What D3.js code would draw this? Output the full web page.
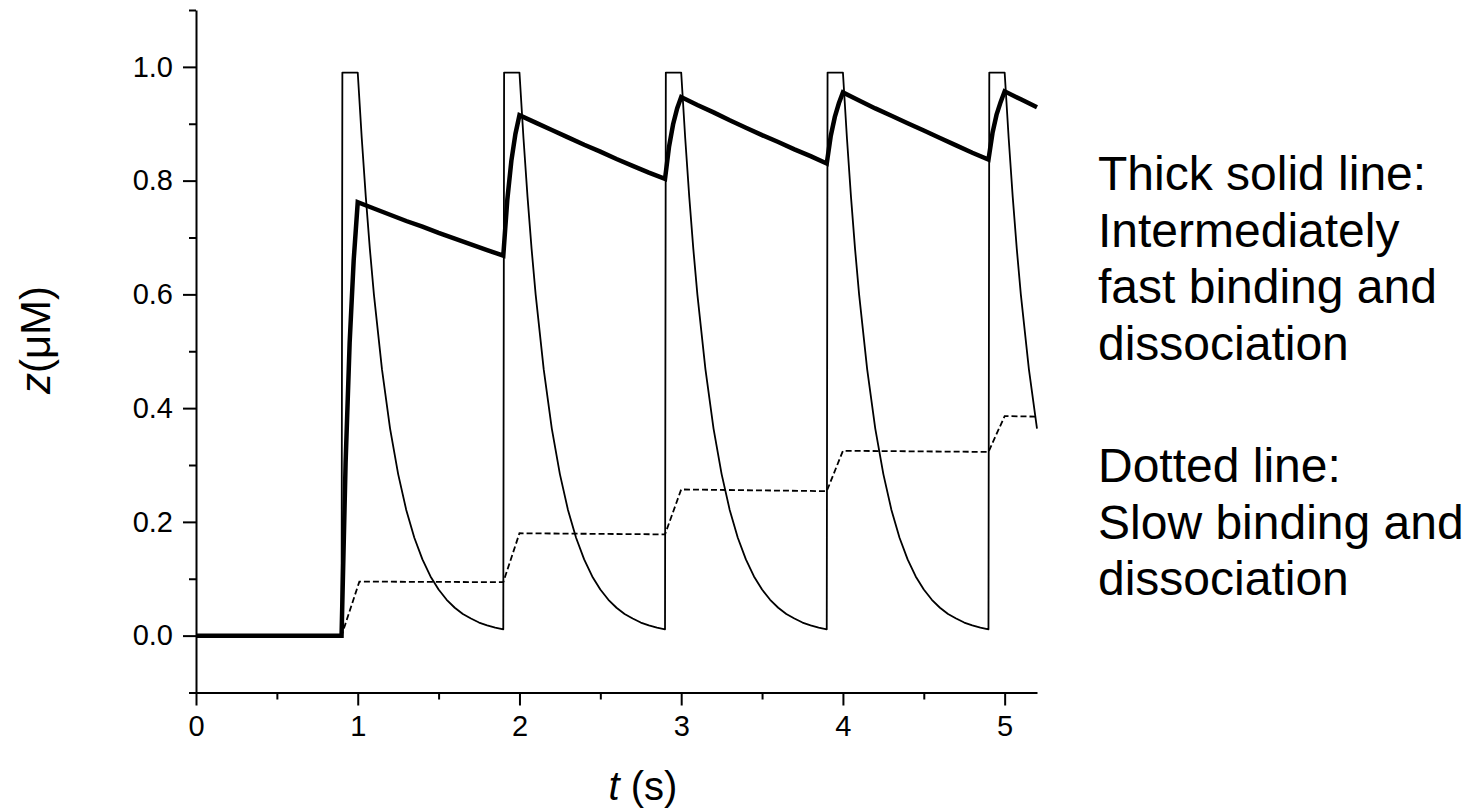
<!DOCTYPE html>
<html>
<head>
<meta charset="utf-8">
<script src="https://cdn.jsdelivr.net/npm/d3@7"></script>
<style>
  html, body { margin: 0; padding: 0; background: #fff; }
  svg { display: block; }
  text { font-family: "Liberation Sans", Arial, sans-serif; fill: #000; }
</style>
</head>
<body>
<svg id="chart" width="1475" height="812"></svg>
<script>
// ---------------- data ----------------
const xMajorTicks = [0, 1, 2, 3, 4, 5];
const xMinorTicks = [0.5, 1.5, 2.5, 3.5, 4.5];
const yMajorTicks = [0.0, 0.2, 0.4, 0.6, 0.8, 1.0];
const yMinorTicks = [-0.1, 0.1, 0.3, 0.5, 0.7, 0.9, 1.1];

// thin line: square pulse followed by exponential decay
const thinLine = [
  [0, 0], [0.9, 0], [0.905, 0.99], [1.0, 0.99],
  [1.025, 0.874], [1.05, 0.771], [1.075, 0.680], [1.1, 0.600], [1.15, 0.468], [1.2, 0.364], [1.25, 0.284], [1.3, 0.221],
  [1.35, 0.172], [1.4, 0.134], [1.45, 0.104], [1.5, 0.081], [1.55, 0.063], [1.6, 0.049],
  [1.65, 0.038], [1.7, 0.030], [1.75, 0.023], [1.8, 0.018], [1.85, 0.014], [1.9, 0.011],
  [1.905, 0.99], [2.0, 0.99],
  [2.025, 0.874], [2.05, 0.771], [2.075, 0.680], [2.1, 0.600], [2.15, 0.468], [2.2, 0.364], [2.25, 0.284], [2.3, 0.221],
  [2.35, 0.172], [2.4, 0.134], [2.45, 0.104], [2.5, 0.081], [2.55, 0.063], [2.6, 0.049],
  [2.65, 0.038], [2.7, 0.030], [2.75, 0.023], [2.8, 0.018], [2.85, 0.014], [2.9, 0.011],
  [2.905, 0.99], [3.0, 0.99],
  [3.025, 0.874], [3.05, 0.771], [3.075, 0.680], [3.1, 0.600], [3.15, 0.468], [3.2, 0.364], [3.25, 0.284], [3.3, 0.221],
  [3.35, 0.172], [3.4, 0.134], [3.45, 0.104], [3.5, 0.081], [3.55, 0.063], [3.6, 0.049],
  [3.65, 0.038], [3.7, 0.030], [3.75, 0.023], [3.8, 0.018], [3.85, 0.014], [3.9, 0.011],
  [3.905, 0.99], [4.0, 0.99],
  [4.025, 0.874], [4.05, 0.771], [4.075, 0.680], [4.1, 0.600], [4.15, 0.468], [4.2, 0.364], [4.25, 0.284], [4.3, 0.221],
  [4.35, 0.172], [4.4, 0.134], [4.45, 0.104], [4.5, 0.081], [4.55, 0.063], [4.6, 0.049],
  [4.65, 0.038], [4.7, 0.030], [4.75, 0.023], [4.8, 0.018], [4.85, 0.014], [4.9, 0.011],
  [4.905, 0.99], [5.0, 0.99],
  [5.025, 0.874], [5.05, 0.771], [5.075, 0.680], [5.1, 0.600], [5.15, 0.468], [5.2, 0.364]
];

// thick line: intermediately fast binding and dissociation
const thickLine = [
  [0, 0], [0.9, 0], [0.925, 0.304], [0.95, 0.515], [0.975, 0.660], [1.0, 0.762],
  [1.1, 0.751], [1.2, 0.740], [1.3, 0.729], [1.4, 0.719], [1.5, 0.708], [1.6, 0.698],
  [1.7, 0.688], [1.8, 0.678], [1.9, 0.668],
  [1.925, 0.767], [1.95, 0.835], [1.975, 0.882], [2.0, 0.915],
  [2.1, 0.902], [2.2, 0.889], [2.3, 0.876], [2.4, 0.863], [2.5, 0.851], [2.6, 0.838],
  [2.7, 0.826], [2.8, 0.814], [2.9, 0.803],
  [2.925, 0.860], [2.95, 0.899], [2.975, 0.927], [3.0, 0.947],
  [3.1, 0.933], [3.2, 0.920], [3.3, 0.906], [3.4, 0.893], [3.5, 0.880], [3.6, 0.868],
  [3.7, 0.855], [3.8, 0.843], [3.9, 0.830],
  [3.925, 0.879], [3.95, 0.912], [3.975, 0.936], [4.0, 0.955],
  [4.1, 0.941], [4.2, 0.927], [4.3, 0.914], [4.4, 0.901], [4.5, 0.888], [4.6, 0.875],
  [4.7, 0.862], [4.8, 0.849], [4.9, 0.837],
  [4.925, 0.884], [4.95, 0.916], [4.975, 0.938], [5.0, 0.957],
  [5.1, 0.943], [5.2, 0.929]
];

// dotted line: slow binding and dissociation
const dottedLine = [
  [0, 0], [0.9, 0], [1.01, 0.095], [1.9, 0.094], [2.0, 0.180], [2.9, 0.178],
  [3.0, 0.257], [3.9, 0.254], [4.0, 0.325], [4.9, 0.323], [5.0, 0.386], [5.2, 0.385]
];

const xTitle = "(s)";
const yTitle = "(μM)";
const noteThick = ["Thick solid line:", "Intermediately", "fast binding and", "dissociation"];
const noteDotted = ["Dotted line:", "Slow binding and", "dissociation"];

// ---------------- drawing ----------------
const svg = d3.select("#chart");
const x = d3.scaleLinear().domain([0, 5.2]).range([196, 1037]);
const y = d3.scaleLinear().domain([-0.1, 1.1]).range([692.5, 10]);

const axisFont = "29px";

// x axis minor
svg.append("g").attr("transform", `translate(0,${y(-0.1)})`)
  .call(d3.axisBottom(x).tickValues(xMinorTicks).tickSize(7).tickFormat(""))
  .call(g => g.select(".domain").remove())
  .call(g => g.selectAll("line").attr("stroke", "#000").attr("stroke-width", 2));
// x axis major
svg.append("g").attr("transform", `translate(0,${y(-0.1)})`)
  .call(d3.axisBottom(x).tickValues(xMajorTicks).tickSize(13).tickSizeOuter(0).tickPadding(10).tickFormat(d3.format("d")))
  .call(g => g.select(".domain").attr("stroke", "#000").attr("stroke-width", 2))
  .call(g => g.selectAll("line").attr("stroke", "#000").attr("stroke-width", 2))
  .call(g => g.selectAll("text").style("font-size", axisFont).attr("fill", "#000")
    .style("font-family", "'Liberation Sans', Arial, sans-serif"));

// y axis minor
svg.append("g").attr("transform", `translate(${x(0)},0)`)
  .call(d3.axisLeft(y).tickValues(yMinorTicks).tickSize(7).tickFormat(""))
  .call(g => g.select(".domain").remove())
  .call(g => g.selectAll("line").attr("stroke", "#000").attr("stroke-width", 2));
// y axis major
svg.append("g").attr("transform", `translate(${x(0)},0)`)
  .call(d3.axisLeft(y).tickValues(yMajorTicks).tickSize(13).tickSizeOuter(0).tickPadding(10).tickFormat(d3.format(".1f")))
  .call(g => g.select(".domain").attr("stroke", "#000").attr("stroke-width", 2))
  .call(g => g.selectAll("line").attr("stroke", "#000").attr("stroke-width", 2))
  .call(g => g.selectAll("text").style("font-size", axisFont).attr("fill", "#000")
    .style("font-family", "'Liberation Sans', Arial, sans-serif"));

// lines
const line = d3.line().x(d => x(d[0])).y(d => y(d[1]));

svg.append("path").datum(dottedLine)
  .attr("d", line).attr("fill", "none").attr("stroke", "#000")
  .attr("stroke-width", 1.8).attr("stroke-dasharray", "6,3");

svg.append("path").datum(thinLine)
  .attr("d", line).attr("fill", "none").attr("stroke", "#000")
  .attr("stroke-width", 1.8).attr("stroke-linejoin", "round");

svg.append("path").datum(thickLine)
  .attr("d", line).attr("fill", "none").attr("stroke", "#000")
  .attr("stroke-width", 4.5).attr("stroke-linejoin", "miter");

// axis titles
const xt = svg.append("text").attr("x", 643).attr("y", 800)
  .attr("text-anchor", "middle").style("font-size", "40px");
xt.append("tspan").style("font-style", "italic").text("t");
xt.append("tspan").text(" " + xTitle);

const yt = svg.append("text").attr("transform", "translate(50,340) rotate(-90)")
  .attr("text-anchor", "middle").style("font-size", "42px");
yt.append("tspan").style("font-style", "italic").text("z");
yt.append("tspan").text(yTitle);

// annotations
const noteX = 1098;
svg.append("g").selectAll("text").data(noteThick).join("text")
  .attr("x", noteX).attr("y", (d, i) => 190 + i * 56.5)
  .style("font-size", "48px").text(d => d);
svg.append("g").selectAll("text").data(noteDotted).join("text")
  .attr("x", noteX).attr("y", (d, i) => 482 + i * 56.5)
  .style("font-size", "48px").text(d => d);
</script>
</body>
</html>
